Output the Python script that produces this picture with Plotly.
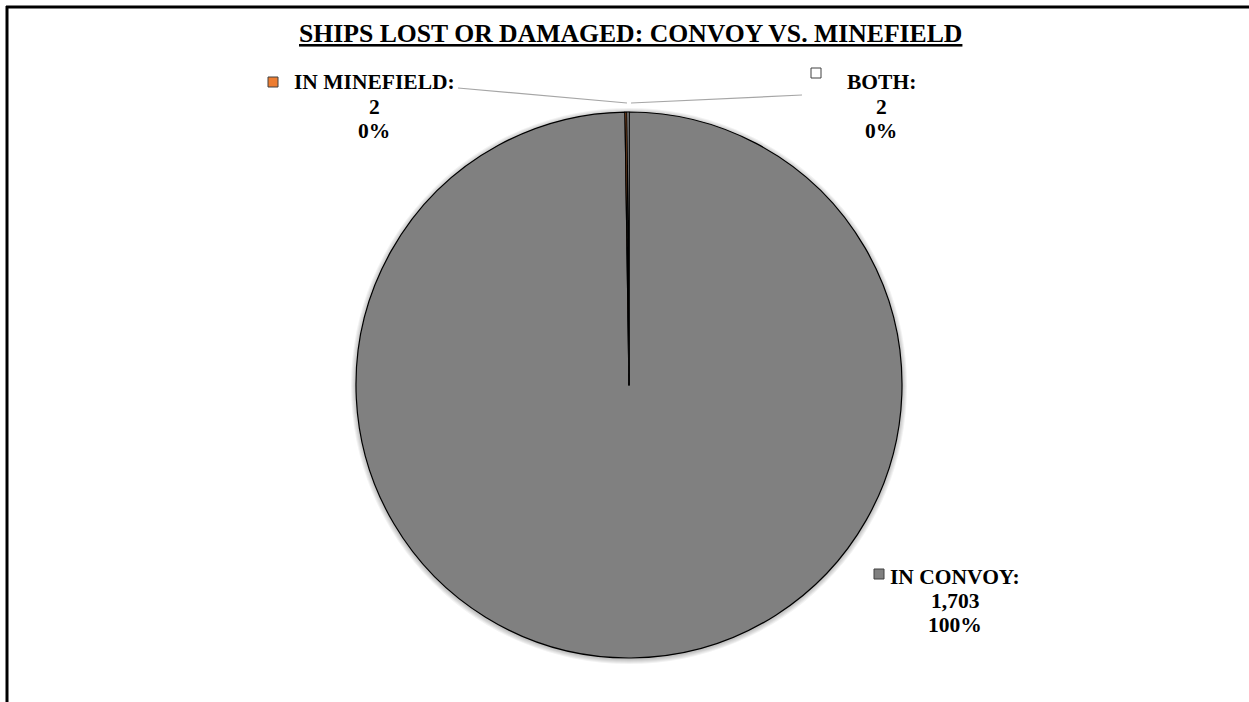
import plotly.graph_objects as go

# ---- data ----
categories = ["IN CONVOY", "IN MINEFIELD", "BOTH"]
values = [1703, 2, 2]
colors = ["#808080", "#ED7D31", "#FFFFFF"]
title_text = "SHIPS LOST OR DAMAGED: CONVOY VS. MINEFIELD"

W, H = 1249, 702
FONT = "Liberation Serif, Times New Roman, serif"


def px(x, y):
    return x / W, 1 - y / H


total = sum(values)
pct = [f"{round(v / total * 100)}%" for v in values]

# pie geometry (pixels)
cx, cy, r = 629, 385, 273


def dom(rad, dx=0, dy=0):
    return dict(x=[(cx + dx - rad) / W, (cx + dx + rad) / W],
                y=[1 - (cy + dy + rad) / H, 1 - (cy + dy - rad) / H])


fig = go.Figure()
# soft shadow behind the pie
for k in range(1, 6):
    fig.add_trace(go.Pie(values=[total], sort=False, textinfo="none", hoverinfo="skip",
                         showlegend=False,
                         marker=dict(colors=["rgba(0,0,0,0.05)"], line=dict(width=0)),
                         domain=dom(r + k, 0, 1)))

fig.add_trace(go.Pie(
    labels=categories,
    values=values,
    sort=False,
    direction="clockwise",
    rotation=0,
    marker=dict(colors=colors, line=dict(color="#000000", width=1.2)),
    textinfo="none",
    hoverinfo="label+value+percent",
    showlegend=False,
    domain=dom(r),
))

annotations = []
shapes = []

# title
tx, ty = px(630, 33)
annotations.append(dict(x=tx, y=ty, xref="paper", yref="paper", xanchor="center", yanchor="middle",
                        text=f"<u><b>{title_text}</b></u>", showarrow=False,
                        font=dict(family=FONT, size=25.7, color="#000000")))

# data labels: index -> (text center x, line y centers, square center x, square center y)
label_pos = {
    1: (374, [82, 107, 131], 273, 82),
    2: (881, [82, 107, 131], 816, 73),
    0: (955, [577, 601, 625], 879, 574),
}
for i, (lx, ys, sx, sy) in label_pos.items():
    lines = [f"{categories[i]}:", f"{values[i]:,}", pct[i]]
    for t, yy in zip(lines, ys):
        x0, y0 = px(lx, yy)
        annotations.append(dict(x=x0, y=y0, xref="paper", yref="paper", xanchor="center", yanchor="middle",
                                text=f"<b>{t}</b>", showarrow=False,
                                font=dict(family=FONT, size=21.5, color="#000000")))
    # legend key square
    s = 5
    a0 = px(sx - s, sy - s)
    a1 = px(sx + s, sy + s)
    shapes.append(dict(type="rect", xref="paper", yref="paper", x0=a0[0], y0=a1[1], x1=a1[0], y1=a0[1],
                       fillcolor=colors[i], line=dict(color="#404040", width=1)))

# leader lines
for (x1, y1), (x2, y2) in [((458, 88), (627, 103)), ((802, 95), (631, 103))]:
    p1 = px(x1, y1)
    p2 = px(x2, y2)
    shapes.append(dict(type="line", xref="paper", yref="paper", x0=p1[0], y0=p1[1], x1=p2[0], y1=p2[1],
                       line=dict(color="#A6A6A6", width=1.2)))

# frame lines (top and left)
a = px(6, 7)
b = px(W, 7)
shapes.append(dict(type="line", xref="paper", yref="paper", x0=a[0], y0=a[1], x1=b[0], y1=b[1],
                   line=dict(color="#000000", width=3)))
c = px(7, 6)
d = px(7, H)
shapes.append(dict(type="line", xref="paper", yref="paper", x0=c[0], y0=c[1], x1=d[0], y1=d[1],
                   line=dict(color="#000000", width=3)))

fig.update_layout(
    width=W, height=H,
    margin=dict(l=0, r=0, t=0, b=0),
    paper_bgcolor="#FFFFFF",
    plot_bgcolor="#FFFFFF",
    annotations=annotations,
    shapes=shapes,
    font=dict(family=FONT),
)

fig.write_html("out.html", config={"displayModeBar": False},
               post_script="document.body.style.margin='0';document.body.style.overflow='hidden';")
